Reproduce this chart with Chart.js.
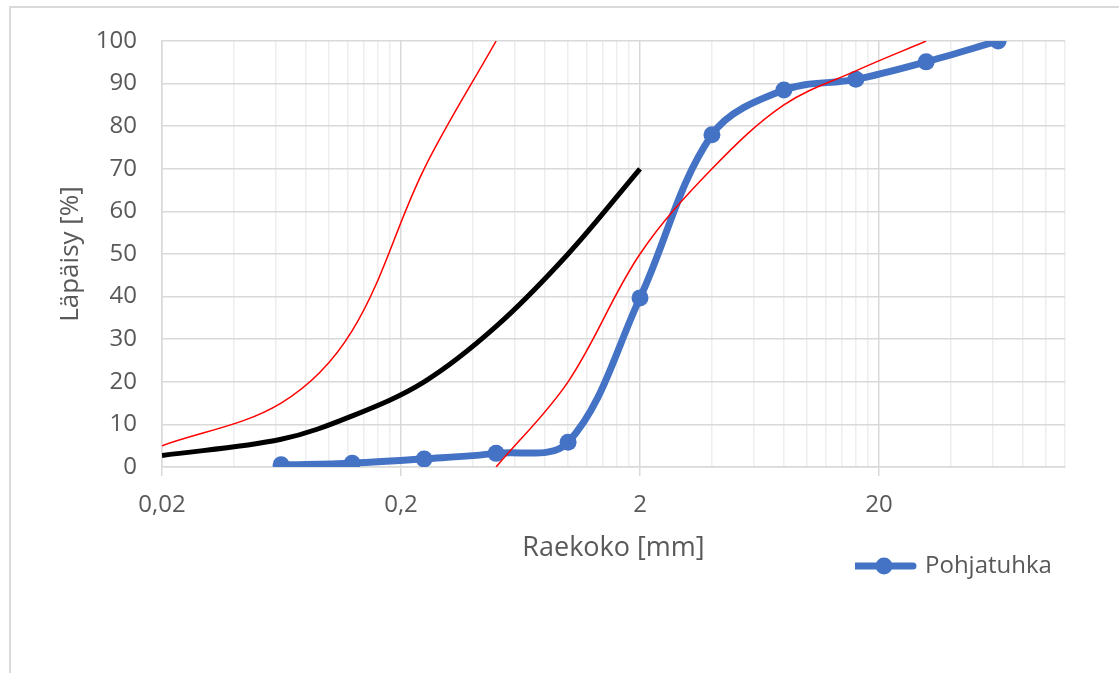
<!DOCTYPE html>
<html>
<head>
<meta charset="utf-8">
<script src="https://cdn.jsdelivr.net/npm/chart.js@4"></script>
<style>
  html, body { margin: 0; padding: 0; background: #fff; overflow: hidden; }
  #frame { position: absolute; left: 9px; top: 6px; width: 1200px; height: 800px; border: 2px solid #d9d9d9; }
  #wrap { position: absolute; left: 0; top: 0; width: 1119px; height: 673px; }
</style>
</head>
<body>
<div id="frame"></div>
<div id="wrap"><canvas id="gradingChart"></canvas></div>
<script>
// seulakoot (mm) ja läpäisyt (%)
const sieveSizes = [0.063, 0.125, 0.25, 0.5, 1, 2, 4, 8, 16, 31.5, 63];
const pohjatuhka = [0.5, 0.9, 1.9, 3.2, 5.8, 39.7, 78, 88.5, 91, 95.1, 100];

// ohjealueen rajakäyrät
const blackSizes = [0.02, 0.063, 0.125, 0.25, 0.5, 1, 2];
const blackLimit = [2.7, 6.5, 12, 20, 33, 50, 70];

const redFineSizes = [0.02, 0.063, 0.125, 0.25, 0.5];
const redFine = [5, 15, 32, 70, 100];

const redCoarseSizes = [0.5, 1, 2, 4, 8, 16, 31.5];
const redCoarse = [0, 20, 50, 70, 85, 93, 100];

const xMajorTicks = [0.02, 0.2, 2, 20];
const xTickLabels = ['0,02', '0,2', '2', '20'];
const xMin = 0.02;
const xMax = 120;

const FONT = "'Open Sans', 'Noto Sans', sans-serif";
const TEXT = '#595959';
const BLUE = '#4472C4';

const pts = (xs, ys) => xs.map((x, i) => ({ x: x, y: ys[i] }));
const majorIndex = v => xMajorTicks.findIndex(m => Math.abs(m - v) / m < 1e-6);

// apuviivat: 1..9 x jokainen pääjako
const xGridValues = [];
xMajorTicks.forEach(m => {
  for (let k = 1; k <= 9; k++) {
    const v = m * k;
    if (v <= xMax * 1.0001) xGridValues.push(v);
  }
});

// legendan merkki: viiva + pallo
const legendMarker = document.createElement('canvas');
legendMarker.width = 66;
legendMarker.height = 20;
const mctx = legendMarker.getContext('2d');
mctx.strokeStyle = BLUE;
mctx.lineWidth = 7;
mctx.lineCap = 'round';
mctx.beginPath();
mctx.moveTo(4, 10);
mctx.lineTo(62, 10);
mctx.stroke();
mctx.fillStyle = BLUE;
mctx.beginPath();
mctx.arc(33, 10, 8.5, 0, Math.PI * 2);
mctx.fill();

const legendPlacer = {
  id: 'legendPlacer',
  afterLayout(chart) {
    const lg = chart.legend;
    const pad = lg.options.labels.padding;
    const w = lg.width, h = lg.height;
    lg.left = 855 - pad;
    lg.right = lg.left + w;
    lg.top = 554 - pad;
    lg.bottom = lg.top + h;
  }
};

const ctx = document.getElementById('gradingChart').getContext('2d');
const gradingChart = new Chart(ctx, {
  type: 'line',
  data: {
    datasets: [
      {
        label: 'Ala',
        data: pts(redFineSizes, redFine),
        borderColor: '#FF0000',
        borderWidth: 1.5,
        pointRadius: 0,
        tension: 0.35,
        order: 0
      },
      {
        label: 'Ylä',
        data: pts(redCoarseSizes, redCoarse),
        borderColor: '#FF0000',
        borderWidth: 1.5,
        pointRadius: 0,
        tension: 0.35,
        order: 1
      },
      {
        label: 'Raja',
        data: pts(blackSizes, blackLimit),
        borderColor: '#000000',
        borderWidth: 5,
        pointRadius: 0,
        tension: 0.35,
        order: 2
      },
      {
        label: 'Pohjatuhka',
        data: pts(sieveSizes, pohjatuhka),
        borderColor: BLUE,
        backgroundColor: BLUE,
        borderWidth: 7,
        pointRadius: 8.5,
        pointBorderWidth: 0,
        pointBackgroundColor: BLUE,
        tension: 0.35,
        order: 3
      }
    ]
  },
  options: {
    responsive: true,
    maintainAspectRatio: false,
    animation: false,
    layout: { padding: { top: 41, right: 54, bottom: 0, left: 0 } },
    plugins: {
      tooltip: { enabled: false },
      legend: {
        position: 'chartArea',
        align: 'start',
        labels: {
          padding: 0,
          color: TEXT,
          font: { family: FONT, size: 24 },
          usePointStyle: true,
          pointStyleWidth: 58,
          filter: item => item.text === 'Pohjatuhka',
          generateLabels: function(chart) {
            const items = Chart.defaults.plugins.legend.labels.generateLabels(chart);
            items.forEach(it => { it.pointStyle = legendMarker; });
            return items;
          }
        }
      }
    },
    scales: {
      x: {
        type: 'logarithmic',
        min: xMin,
        max: xMax,
        afterBuildTicks: function(scale) {
          scale.ticks = xGridValues.map(v => ({ value: v }));
        },
        afterFit: function(scale) {
          scale.height = 673 - 467;
        },
        ticks: {
          autoSkip: false,
          maxRotation: 0,
          minRotation: 0,
          padding: 15,
          color: TEXT,
          font: { family: FONT, size: 24 },
          callback: function(value) {
            const i = majorIndex(value);
            return i >= 0 ? xTickLabels[i] : '';
          }
        },
        grid: {
          lineWidth: 1.5,
          tickLength: 9,
          tickWidth: 1.5,
          color: c => (c.tick && majorIndex(c.tick.value) >= 0) ? '#d9d9d9' : '#eeeeee',
          tickColor: c => (c.tick && majorIndex(c.tick.value) >= 0) ? '#d9d9d9' : 'rgba(0,0,0,0)'
        },
        border: { color: '#d9d9d9', width: 1.5 },
        title: {
          display: true,
          text: 'Raekoko [mm]',
          color: TEXT,
          font: { family: FONT, size: 27 },
          padding: { top: 0, bottom: 108 }
        }
      },
      y: {
        min: 0,
        max: 100,
        afterFit: function(scale) {
          scale.width = 162;
        },
        ticks: {
          stepSize: 10,
          padding: 25,
          color: TEXT,
          font: { family: FONT, size: 24 }
        },
        grid: { color: '#d9d9d9', lineWidth: 1.5, drawTicks: false },
        border: { color: '#d9d9d9', width: 1.5 },
        title: {
          display: true,
          text: 'Läpäisy [%]',
          color: TEXT,
          font: { family: FONT, size: 26 },
          padding: { top: 55, bottom: 0 }
        }
      }
    }
  },
  plugins: [legendPlacer]
});
</script>
</body>
</html>
